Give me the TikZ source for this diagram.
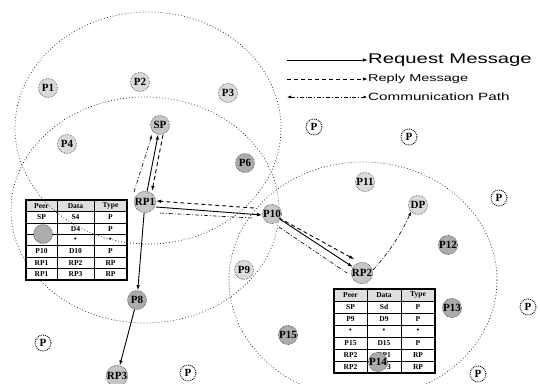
\documentclass[tikz,border=0pt]{standalone}
\usepackage{fontspec}
\usepackage{graphicx}
\setmainfont{Liberation Serif}
\newfontfamily\legendfont{Liberation Sans}
\usetikzlibrary{arrows.meta}
\newcommand{\legtxt}[2]{\scalebox{1.45}[1]{\legendfont\fontsize{#1}{#1}\selectfont #2}}
\begin{document}
\begin{tikzpicture}[x=1pt,y=-1pt,
  peer/.style={circle, draw=black!80, densely dotted, line width=0.6pt, fill=gray!45, inner sep=0pt, minimum size=19pt, font=\bfseries\fontsize{11}{11}\selectfont},
  lpeer/.style={peer, fill=gray!28},
  dpeer/.style={peer, fill=gray!65},
  gpeer/.style={circle, draw=black, densely dotted, line width=0.9pt, fill=white, inner sep=0pt, minimum size=16pt, font=\bfseries\fontsize{11}{11}\selectfont},
  rangecirc/.style={draw=black!85, line width=0.7pt, dash pattern=on 0.8pt off 2.2pt},
  reqarrow/.style={draw, line width=0.9pt, -{Latex[length=5pt,width=3.5pt]}},
  reparrow/.style={draw, line width=0.9pt, dash pattern=on 4pt off 3pt, -{Latex[length=5pt,width=3.5pt]}},
  comline/.style={draw, line width=0.6pt, dash pattern=on 4pt off 2pt on 0.8pt off 2pt},
  comarrow/.style={comline, -{Latex[length=4pt,width=3pt]}},
  cell/.style={inner sep=0pt, font=\bfseries\fontsize{7.5}{8}\selectfont},
  tgrid/.style={draw, line width=0.5pt},
  tframe/.style={draw, line width=1.2pt}
]
\useasboundingbox (0,0) rectangle (540,383);
\fill[white] (0,0) rectangle (540,383);

% range circles (behind tables)
\draw[rangecirc] (145,210) ellipse [x radius=134, y radius=113];
\draw[rangecirc] (363,280) ellipse [x radius=134, y radius=118];

% left table
\fill[white] (26,200) rectangle (127,280);
\fill[gray!25] (26,200) rectangle (127,211.43);
\foreach \yy in {211.43,222.86,234.29,245.71,257.14,268.57} \draw[tgrid] (26,\yy) -- (127,\yy);
\foreach \xx in {57,94} \draw[tgrid] (\xx,200) -- (\xx,280);
\draw[tframe] (26,200) rectangle (127,280);
\foreach \r/\a/\b/\c in {0/Peer/Data/Type,1/SP/S4/P,2/P4/D4/P,3/\textbullet/\textbullet/\textbullet,4/P10/D10/P,5/RP1/RP2/RP,6/RP1/RP3/RP}{
  \node[cell] (lt\r a) at (41.5,{205.71+11.43*\r}) {\a};
  \node[cell] (lt\r b) at (75.5,{205.71+11.43*\r}) {\b};
  \node[cell] (lt\r c) at (110.5,{205.71+11.43*\r}) {\c};
}

% right table
\fill[white] (334,289) rectangle (435,373);
\fill[gray!25] (334,289) rectangle (435,301);
\foreach \yy in {301,313,325,337,349,361} \draw[tgrid] (334,\yy) -- (435,\yy);
\foreach \xx in {367,401} \draw[tgrid] (\xx,289) -- (\xx,373);
\draw[tframe] (334,289) rectangle (435,373);
\foreach \r/\a/\b/\c in {0/Peer/Data/Type,1/SP/Sd/P,2/P9/D9/P,3/\textbullet/\textbullet/\textbullet,4/P15/D15/P,5/RP2/RP1/RP,6/RP2/RP3/RP}{
  \node[cell] (rt\r a) at (350.5,{295+12*\r}) {\a};
  \node[cell] (rt\r b) at (384,{295+12*\r}) {\b};
  \node[cell] (rt\r c) at (418,{295+12*\r}) {\c};
}

% range circle of SP (over the left table)
\draw[rangecirc] (148,128) ellipse [x radius=133, y radius=116];

% named peers
\node[lpeer] (p1) at (48,88) {P1};
\node[lpeer] (p2) at (140,82) {P2};
\node[lpeer] (p3) at (228,93) {P3};
\node[peer] (sp) at (160,125) {SP};
\node[lpeer] (p4) at (67,144) {P4};
\node[dpeer] (p6) at (245,163) {P6};
\node[peer] (rp1) at (145,202) {RP1};
\node[lpeer] (p9) at (244,270) {P9};
\node[dpeer] (p8) at (137,300) {P8};
\node[peer] (rp3) at (117,376) {RP3};
\node[peer] (p10) at (272,214) {P10};
\node[lpeer] (dp) at (418,205) {DP};
\node[peer] (rp2) at (362,273) {RP2};
\node[lpeer] (p11) at (365,182) {P11};
\node[dpeer] (p12) at (448,245) {P12};
\node[dpeer] (p13) at (452,308) {P13};
\node[dpeer] (p15) at (288,335) {P15};
\node[dpeer] (p14) at (378,362) {P14};
\node[dpeer] (tball) at (43,234) {};

% generic peers
\node[gpeer] (g1) at (314,127) {P};
\node[gpeer] (g2) at (409,137) {P};
\node[gpeer] (g3) at (499,198) {P};
\node[gpeer] (g4) at (528,307) {P};
\node[gpeer] (g5) at (478,374) {P};
\node[gpeer] (g6) at (43,343) {P};
\node[gpeer] (g7) at (188,373) {P};

% SP <-> RP1
\draw[reqarrow] (rp1) -- (sp);
\draw[reparrow] ([xshift=3pt]sp.south) -- ([xshift=7pt]rp1.north);
\draw[comarrow] ([xshift=-11pt,yshift=-1pt]rp1.north) -- ([xshift=-8pt]sp.south);

% RP1 <-> P10
\draw[reqarrow] ([yshift=-5pt]rp1.east) -- ([yshift=-1pt]p10.west);
\draw[reparrow] ([xshift=-8pt,yshift=6pt]p10.west) -- ([yshift=1pt]rp1.east);
\draw[comline] ([xshift=4pt,yshift=-11pt]rp1.east) -- ([xshift=-10pt,yshift=-4pt]p10.west);

% P10 <-> RP2
\draw[reqarrow] (p10) -- (rp2);
\draw[reparrow] ([yshift=3pt]p10.south east) -- ([yshift=6pt]rp2.north west);
\draw[comline] ([yshift=-6pt]p10.south east) -- ([xshift=-4pt]rp2.west);

% RP2 -> DP
\draw[comarrow] ([yshift=3pt]rp2.east) to[bend right=8] (dp.south west);

% RP1 -> P8 -> RP3
\draw[reqarrow] (rp1) -- (p8);
\draw[reqarrow] (p8) -- (rp3);

% legend
\node[anchor=west, inner sep=0pt] (legreq) at (368,60) {\legtxt{14}{Request Message}};
\node[anchor=west, inner sep=0pt] (legrep) at (368,79) {\legtxt{10}{Reply Message}};
\node[anchor=west, inner sep=0pt] (legcom) at (368,97) {\legtxt{10.5}{Communication Path}};
\coordinate (la) at (287,60);
\coordinate (lb) at (287,79);
\coordinate (lc) at (287,97);
\draw[reqarrow] (la) -- (legreq.west);
\draw[reparrow] (lb) -- (legrep.west);
\draw[comline, {Latex[length=4pt,width=3pt]}-{Latex[length=3.5pt,width=3pt]}] (lc) -- ([xshift=-1pt]legcom.west);
\end{tikzpicture}
\end{document}
